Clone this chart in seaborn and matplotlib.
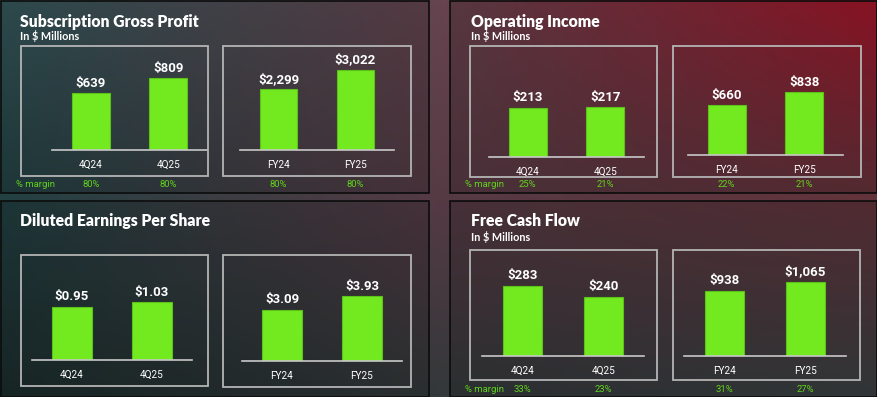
import numpy as np
import pandas as pd
import matplotlib
matplotlib.use("Agg")
import matplotlib.pyplot as plt
from matplotlib.patches import Rectangle
import matplotlib.transforms as mtransforms
import seaborn as sns

# ---------------- data ----------------
quarters = ["4Q24", "4Q25"]
years = ["FY24", "FY25"]

gross_profit_q = [639, 809]
gross_profit_fy = [2299, 3022]
gross_margin_q = ["80%", "80%"]
gross_margin_fy = ["80%", "80%"]

op_income_q = [213, 217]
op_income_fy = [660, 838]
op_margin_q = ["25%", "21%"]
op_margin_fy = ["22%", "21%"]

eps_q = [0.95, 1.03]
eps_fy = [3.09, 3.93]

fcf_q = [283, 240]
fcf_fy = [938, 1065]
fcf_margin_q = ["33%", "23%"]
fcf_margin_fy = ["31%", "27%"]

titles = ["Subscription Gross Profit", "Operating Income",
          "Diluted Earnings Per Share", "Free Cash Flow"]
subtitle = "In $ Millions"

# ---------------- style ----------------
sns.set_theme(style="white")
plt.rcParams["font.family"] = ["Roboto", "DejaVu Sans"]
TITLE_FONT = ["Lato", "DejaVu Sans"]

W, H = 878, 397
fig = plt.figure(figsize=(W / 100, H / 100), dpi=100)

BAR = "#72ea1f"
BAR_EDGE = "#5cc21a"
GREEN_TXT = "#62d21c"
BOX = "#b4b4b4"

# background gradient
gx = np.array([0.0, 0.5, 1.0])
gy = np.array([0.0, 0.5, 1.0])
grid = np.array([
    [[0x35, 0x58, 0x5c], [0x66, 0x44, 0x4f], [0xa2, 0x16, 0x2a]],
    [[0x22, 0x40, 0x42], [0x55, 0x3a, 0x44], [0x62, 0x33, 0x3b]],
    [[0x1c, 0x2c, 0x2c], [0x33, 0x38, 0x3a], [0x3a, 0x40, 0x42]],
], dtype=float) / 255.0
xs = np.linspace(0, 1, W)
ys = np.linspace(0, 1, H)
rows = np.empty((3, W, 3))
for r in range(3):
    for c in range(3):
        rows[r, :, c] = np.interp(xs, gx, grid[r, :, c])
img = np.empty((H, W, 3))
for c in range(3):
    for i in range(W):
        img[:, i, c] = np.interp(ys, gy, rows[:, i, c])
bg = fig.add_axes([0, 0, 1, 1], zorder=-10)
bg.imshow(img, aspect="auto", extent=[0, 1, 0, 1], origin="upper")
bg.set_axis_off()


def frect(x0, y0, x1, y1):
    return [x0 / W, 1 - y1 / H, (x1 - x0) / W, (y1 - y0) / H]


def add_rect(x0, y0, x1, y1, **kw):
    r = Rectangle((x0 / W, 1 - y1 / H), (x1 - x0) / W, (y1 - y0) / H,
                  transform=fig.transFigure, **kw)
    fig.add_artist(r)


def fmt_money(v):
    if isinstance(v, float) and v < 10:
        return f"${v:.2f}"
    return f"${v:,.0f}"


# panels (outer)
panels = [(1, 1, 429, 193), (450, 1, 877, 193), (1, 201, 429, 397), (450, 201, 877, 397)]
for p in panels:
    add_rect(*p, facecolor=(0, 0, 0, 0.16), edgecolor="#0c0c0c", lw=1.2, zorder=0)

title_pos = [(20, 26.5), (471, 26.5), (20, 226), (471, 226.5)]
for (tx, ty), t in zip(title_pos, titles):
    fig.text(tx / W, 1 - ty / H, t, color="white", fontsize=11.3, fontweight="heavy",
             family=TITLE_FONT, va="baseline", ha="left")
for (tx, ty) in [(20, 40), (471, 40), (471, 241)]:
    fig.text(tx / W, 1 - ty / H, subtitle, color="white", fontsize=7.8, fontweight="bold",
             family=TITLE_FONT, va="baseline", ha="left")

# boxes: (box rect, baseline x0, x1, baseline y, categories, values, ymax, margins)
boxes = [
    ((21, 46, 208, 176), 52, 207, 150, quarters, gross_profit_q, 1124, gross_margin_q, 185),
    ((223, 46, 411, 176), 240, 394, 150, years, gross_profit_fy, 3778, gross_margin_fy, 185),
    ((470, 46, 657, 177), 489, 644, 157, quarters, op_income_q, 434, op_margin_q, 184),
    ((673, 46, 861, 177), 688, 843, 155, years, op_income_fy, 1330, op_margin_fy, 184),
    ((21, 255, 208, 386), 32, 192, 360, quarters, eps_q, 1.776, None, None),
    ((223, 255, 411, 387), 242, 402, 361, years, eps_fy, 6.05, None, None),
    ((470, 250, 657, 380), 482, 644, 356, quarters, fcf_q, 404, fcf_margin_q, 389),
    ((673, 250, 860, 380), 684, 846, 356, years, fcf_fy, 1439, fcf_margin_fy, 389),
]

for rect, bx0, bx1, by, cats, vals, ymax, margins, my in boxes:
    add_rect(*rect, facecolor="none", edgecolor=BOX, lw=1.3, zorder=1)
    ax = fig.add_axes(frect(bx0, by - 100, bx1, by))
    ax.set_facecolor("none")
    df = pd.DataFrame({"cat": cats, "val": vals})
    sns.barplot(data=df, x="cat", y="val", order=cats, width=0.49, color=BAR,
                saturation=1, edgecolor=BAR_EDGE, linewidth=0.8, ax=ax)
    ax.set_xlim(-0.5, 1.5)
    ax.set_ylim(0, ymax)
    ax.set_xlabel("")
    ax.set_ylabel("")
    ax.set_yticks([])
    for s in ["top", "left", "right"]:
        ax.spines[s].set_visible(False)
    ax.spines["bottom"].set_color("#c8c8c8")
    ax.spines["bottom"].set_linewidth(1.2)
    ax.tick_params(axis="x", length=0, pad=7, labelsize=7.2, labelcolor="white")
    for i, v in enumerate(vals):
        ax.annotate(fmt_money(v), (i, v), xytext=(0, 2.5), textcoords="offset points",
                    ha="center", va="bottom", color="white", fontsize=9.5,
                    fontweight="bold")
    if margins:
        tr = mtransforms.blended_transform_factory(ax.transData, fig.transFigure)
        for i, m in enumerate(margins):
            ax.text(i, 1 - my / H, m, transform=tr, ha="center", va="center",
                    color=GREEN_TXT, fontsize=6.8, clip_on=False)

for (mx, my) in [(16, 185), (465, 184), (465, 389)]:
    fig.text(mx / W, 1 - my / H, "% margin", color=GREEN_TXT, fontsize=6.8,
             ha="left", va="center")

fig.savefig("out.png", dpi=100)
